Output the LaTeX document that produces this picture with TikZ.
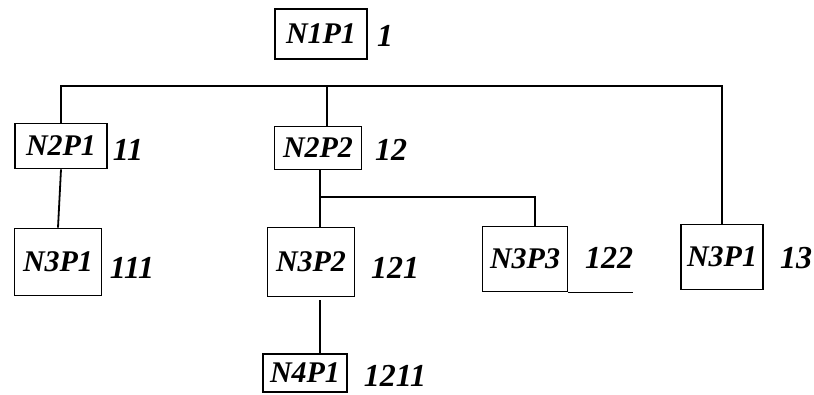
\documentclass[tikz,border=0pt]{standalone}
\usepackage{fontspec}
\setmainfont{Liberation Serif}
\usetikzlibrary{calc}

\begin{document}
\begin{tikzpicture}[x=1pt,y=-1pt,line width=1.8pt,
    blk/.style={draw,inner sep=0pt,font=\fontsize{30}{30}\selectfont\bfseries\itshape},
    num/.style={inner sep=0pt,font=\fontsize{32}{32}\selectfont\bfseries\itshape}]
    \useasboundingbox (0,0) rectangle (814,394);

    % Boxes
    \node[blk,minimum width=92pt,minimum height=50pt] (n1p1) at (321,34) {N1P1};
    \node[blk,minimum width=92pt,minimum height=45pt] (n2p1) at (61,146) {N2P1};
    \node[blk,minimum width=87pt,minimum height=43pt] (n2p2) at (318,148) {N2P2};
    \node[blk,minimum width=87pt,minimum height=67pt] (n3p1a) at (58,262) {N3P1};
    \node[blk,minimum width=87pt,minimum height=69pt] (n3p2) at (311,262) {N3P2};
    \node[blk,minimum width=85pt,minimum height=65pt] (n3p3) at (525,259) {N3P3};
    \node[blk,minimum width=82pt,minimum height=65pt] (n3p1b) at (722,257) {N3P1};
    \node[blk,minimum width=84pt,minimum height=38pt] (n4p1) at (305,373) {N4P1};

    % Numbers
    \node[num] (l1) at (385,36) {1};
    \node[num] (l11) at (128,150) {11};
    \node[num] (l12) at (391,150) {12};
    \node[num] (l111) at (132,268) {111};
    \node[num] (l121) at (395,268) {121};
    \node[num] (l122) at (609,258) {122};
    \node[num] (l13) at (796,258) {13};
    \node[num] (l1211) at (395,376) {1211};

    % Top bar
    \coordinate (bar) at (327,86);
    \draw (n2p1.north) |- (bar) -| (n3p1b.north);
    \draw (bar) -- (bar |- n2p2.north);

    % Lower links
    \draw (n2p1.south) -- (n3p1a.north);
    \coordinate (fork) at (320,197);
    \draw (fork |- n2p2.south) -- (fork |- n3p2.north);
    \draw (fork) -| ([xshift=10pt]n3p3.north);
    \draw ([xshift=9pt]n3p2.south) ++(0,3) -- ([xshift=15pt]n4p1.north);
    \draw (n3p3.south east) -- ++(65,0);

\end{tikzpicture}
\end{document}
